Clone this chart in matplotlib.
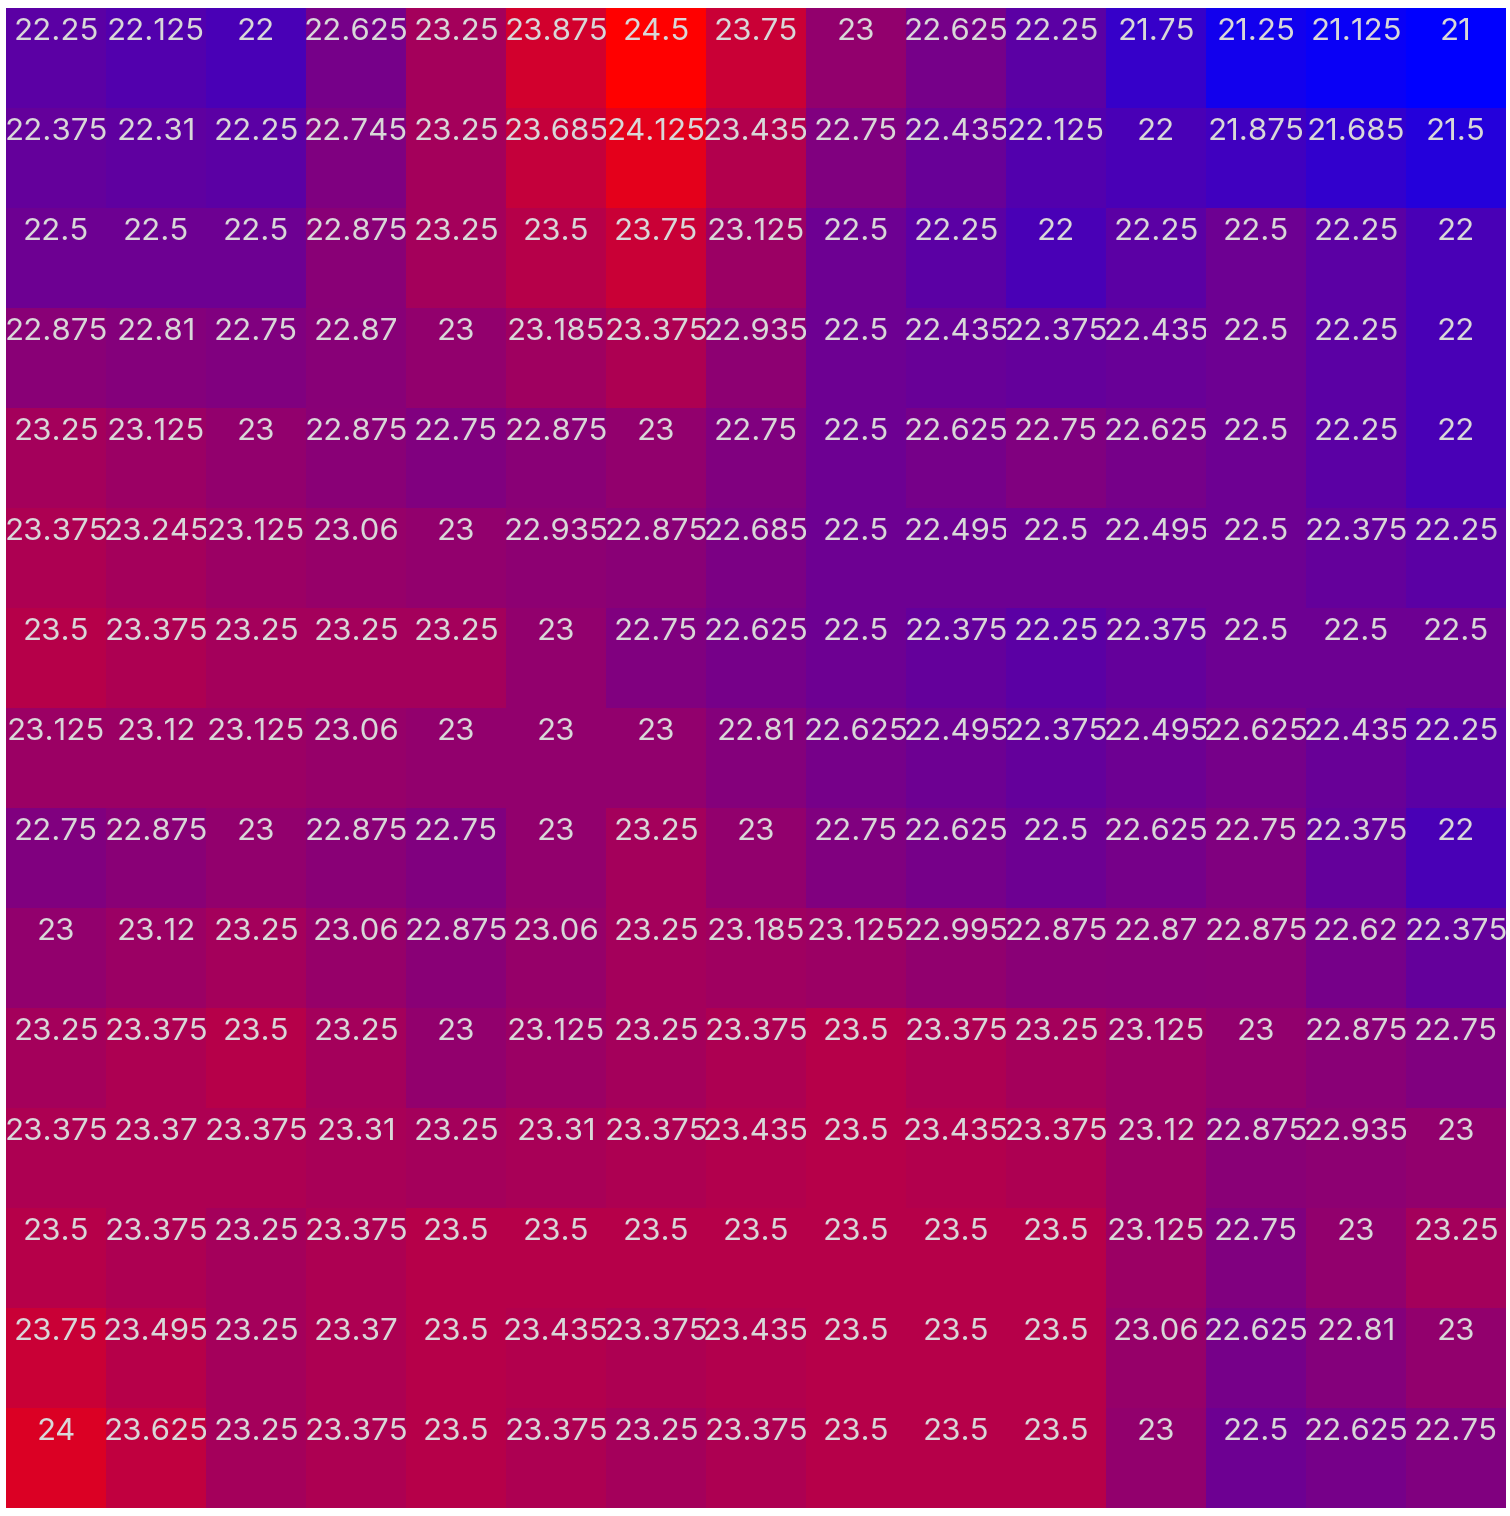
import matplotlib
matplotlib.use("Agg")
import matplotlib.pyplot as plt
from matplotlib.patches import Rectangle
from matplotlib.colors import LinearSegmentedColormap, Normalize

rows = [
    [22.25, 22.125, 22, 22.625, 23.25, 23.875, 24.5, 23.75, 23, 22.625, 22.25, 21.75, 21.25, 21.125, 21],
    [22.375, 22.31, 22.25, 22.745, 23.25, 23.685, 24.125, 23.435, 22.75, 22.435, 22.125, 22, 21.875, 21.685, 21.5],
    [22.5, 22.5, 22.5, 22.875, 23.25, 23.5, 23.75, 23.125, 22.5, 22.25, 22, 22.25, 22.5, 22.25, 22],
    [22.875, 22.81, 22.75, 22.87, 23, 23.185, 23.375, 22.935, 22.5, 22.435, 22.375, 22.435, 22.5, 22.25, 22],
    [23.25, 23.125, 23, 22.875, 22.75, 22.875, 23, 22.75, 22.5, 22.625, 22.75, 22.625, 22.5, 22.25, 22],
    [23.375, 23.245, 23.125, 23.06, 23, 22.935, 22.875, 22.685, 22.5, 22.495, 22.5, 22.495, 22.5, 22.375, 22.25],
    [23.5, 23.375, 23.25, 23.25, 23.25, 23, 22.75, 22.625, 22.5, 22.375, 22.25, 22.375, 22.5, 22.5, 22.5],
    [23.125, 23.12, 23.125, 23.06, 23, 23, 23, 22.81, 22.625, 22.495, 22.375, 22.495, 22.625, 22.435, 22.25],
    [22.75, 22.875, 23, 22.875, 22.75, 23, 23.25, 23, 22.75, 22.625, 22.5, 22.625, 22.75, 22.375, 22],
    [23, 23.12, 23.25, 23.06, 22.875, 23.06, 23.25, 23.185, 23.125, 22.995, 22.875, 22.87, 22.875, 22.62, 22.375],
    [23.25, 23.375, 23.5, 23.25, 23, 23.125, 23.25, 23.375, 23.5, 23.375, 23.25, 23.125, 23, 22.875, 22.75],
    [23.375, 23.37, 23.375, 23.31, 23.25, 23.31, 23.375, 23.435, 23.5, 23.435, 23.375, 23.12, 22.875, 22.935, 23],
    [23.5, 23.375, 23.25, 23.375, 23.5, 23.5, 23.5, 23.5, 23.5, 23.5, 23.5, 23.125, 22.75, 23, 23.25],
    [23.75, 23.495, 23.25, 23.37, 23.5, 23.435, 23.375, 23.435, 23.5, 23.5, 23.5, 23.06, 22.625, 22.81, 23],
    [24, 23.625, 23.25, 23.375, 23.5, 23.375, 23.25, 23.375, 23.5, 23.5, 23.5, 23, 22.5, 22.625, 22.75],
]

vmin, vmax = 21.0, 24.5
cmap = LinearSegmentedColormap.from_list("br", ["#0000ff", "#ff0000"])
norm = Normalize(vmin=vmin, vmax=vmax)

fig = plt.figure(figsize=(15.10, 15.16), dpi=100)
ax = fig.add_axes([6 / 1510, 8 / 1516, 1500 / 1510, 1500 / 1516])
nrows = len(rows)
ncols = len(rows[0])
ax.set_xlim(0, ncols)
ax.set_ylim(nrows, 0)
ax.axis("off")

def fmt(v):
    s = ("%.3f" % v).rstrip("0").rstrip(".")
    return s

k = 0
for r, row in enumerate(rows):
    for c, v in enumerate(row):
        ax.add_patch(Rectangle((c, r), 1, 1, facecolor=cmap(norm(v)),
                               edgecolor="none", zorder=1 + 2 * k))
        ax.text(c + 0.5, r + 0.315, fmt(v), ha="center", va="baseline",
                color="#d8d8d8", fontsize=22.5, family="Inter",
                zorder=2 + 2 * k, clip_on=False)
        k += 1

fig.savefig("out.png", dpi=100)
